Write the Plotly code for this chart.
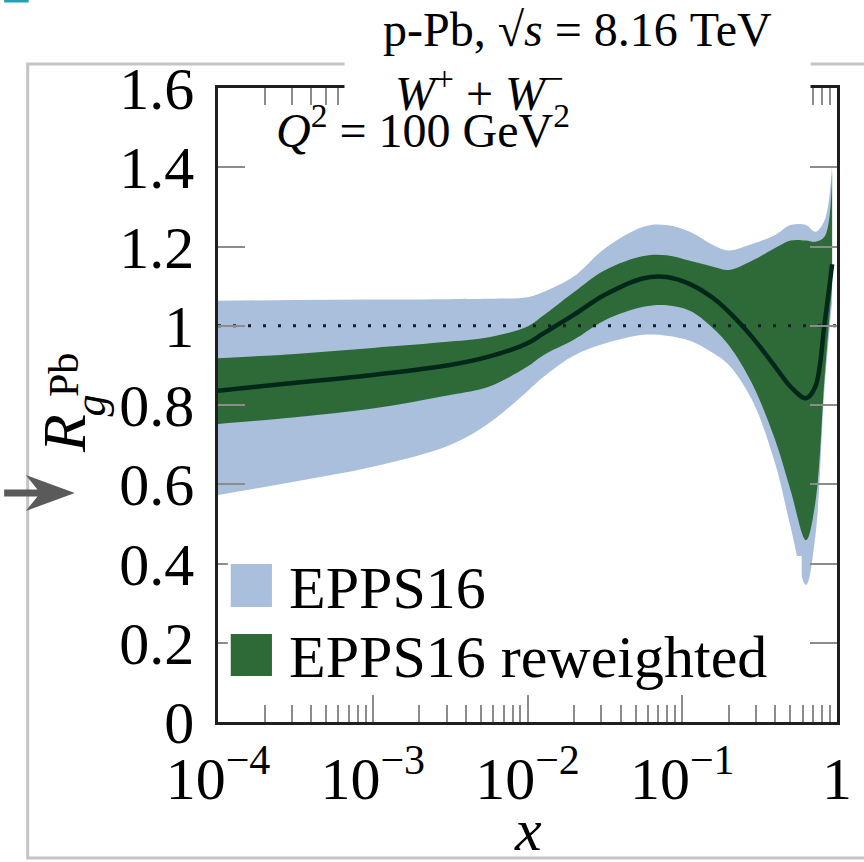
import plotly.graph_objects as go

# Momentum fraction x (log axis) at which the bands were sampled
x_vals = [1e-4, 3.16e-4, 1e-3, 3.16e-3, 5.62e-3, 1e-2, 1.26e-2, 2.0e-2,
          3.16e-2, 5.62e-2, 7.94e-2, 0.112, 0.158, 0.2, 0.282, 0.398,
          0.501, 0.631, 0.724, 0.832, 0.93]

# EPPS16 uncertainty band
epps_upper = [1.063, 1.065, 1.066, 1.067, 1.068, 1.072, 1.085, 1.125,
              1.195, 1.250, 1.254, 1.237, 1.204, 1.190, 1.206, 1.229,
              1.254, 1.254, 1.237, 1.267, 1.410]
epps_lower = [0.573, 0.607, 0.644, 0.699, 0.754, 0.835, 0.870, 0.925,
              0.955, 0.977, 0.975, 0.962, 0.931, 0.901, 0.813, 0.653,
              0.493, 0.346, 0.468, 0.846, 1.060]

# EPPS16 reweighted band and central value
rew_upper = [0.918, 0.929, 0.944, 0.960, 0.971, 0.998, 1.025, 1.085,
             1.140, 1.176, 1.178, 1.164, 1.149, 1.141, 1.164, 1.196,
             1.215, 1.215, 1.212, 1.225, 1.390]
rew_lower = [0.752, 0.769, 0.791, 0.825, 0.846, 0.897, 0.925, 0.965,
             1.014, 1.048, 1.052, 1.038, 0.994, 0.951, 0.855, 0.712,
             0.585, 0.459, 0.552, 0.871, 1.100]
rew_central = [0.836, 0.856, 0.876, 0.901, 0.922, 0.956, 0.980, 1.028,
               1.078, 1.120, 1.123, 1.105, 1.070, 1.035, 0.972, 0.897,
               0.846, 0.817, 0.846, 1.007, 1.155]

x_ticks = [1e-4, 1e-3, 1e-2, 1e-1, 1]
x_ticktext = ["10<sup>\u22124</sup>", "10<sup>\u22123</sup>",
              "10<sup>\u22122</sup>", "10<sup>\u22121</sup>", "1"]
x_minor = [m * d for d in [1e-4, 1e-3, 1e-2, 1e-1] for m in range(2, 10)]

legend_labels = ["EPPS16", "EPPS16 reweighted"]

BLUE = "#aabfdc"
GREEN = "#2d6a37"
LINE = "#00281a"
SERIF = "Liberation Serif"

# plot frame in page pixels
L, R, T, B = 218, 849, 88, 722
W, H = 864, 862


def pp(X, Y):
    """page pixel -> paper coordinates"""
    return (X - L) / (R - L), (B - Y) / (B - T)


fig = go.Figure()

sp = dict(shape="spline", smoothing=1.0, width=0)
fig.add_trace(go.Scatter(x=x_vals, y=epps_lower, mode="lines",
                         line=dict(color=BLUE, **sp), showlegend=False,
                         hoverinfo="skip"))
fig.add_trace(go.Scatter(x=x_vals, y=epps_upper, mode="lines", fill="tonexty",
                         fillcolor=BLUE, line=dict(color=BLUE, **sp),
                         name=legend_labels[0], showlegend=False))
fig.add_trace(go.Scatter(x=x_vals, y=rew_lower, mode="lines",
                         line=dict(color=GREEN, **sp), showlegend=False,
                         hoverinfo="skip"))
fig.add_trace(go.Scatter(x=x_vals, y=rew_upper, mode="lines", fill="tonexty",
                         fillcolor=GREEN, line=dict(color=GREEN, **sp),
                         name=legend_labels[1], showlegend=False))
fig.add_trace(go.Scatter(x=x_vals, y=rew_central, mode="lines",
                         line=dict(color=LINE, width=4.5, shape="spline",
                                   smoothing=1.0),
                         showlegend=False))
# unity reference
fig.add_trace(go.Scatter(x=[1e-4, 1], y=[1, 1], mode="lines",
                         line=dict(color="#1a1a2a", width=3, dash="3px,12px"),
                         showlegend=False, hoverinfo="skip"))

shapes = []
# outer frame of the panel
x0, y0 = pp(24, 64)
x1, y1 = pp(905, 858)
shapes.append(dict(type="rect", xref="paper", yref="paper", x0=x0, y0=y0,
                   x1=x1, y1=y1, line=dict(color="#c4c4c4", width=3),
                   layer="above"))
# teal tab in the corner
x0, y0 = pp(0, 0)
x1, y1 = pp(25, 2.5)
shapes.append(dict(type="rect", xref="paper", yref="paper", x0=x0, y0=y0,
                   x1=x1, y1=y1, fillcolor="#22a0b6", line=dict(width=0),
                   layer="above"))
# legend background
x0, y0 = pp(228, 556)
x1, y1 = pp(813, 692)
shapes.append(dict(type="rect", xref="paper", yref="paper", x0=x0, y0=y0,
                   x1=x1, y1=y1, fillcolor="white", line=dict(width=0),
                   layer="above"))
# legend swatches
for (ya, yb), col in zip([(564, 607), (634, 676)], [BLUE, GREEN]):
    x0, y0 = pp(231, ya)
    x1, y1 = pp(273, yb)
    shapes.append(dict(type="rect", xref="paper", yref="paper", x0=x0, y0=y0,
                       x1=x1, y1=y1, fillcolor=col, line=dict(width=0),
                       layer="above"))
# pointer arrow at the y axis
pts = [(0, 489.5), (34, 489.5), (22, 475), (72, 493), (22, 511), (34, 496.5),
       (0, 496.5)]
path = "M " + " L ".join("%.5f,%.5f" % pp(px, py) for px, py in pts) + " Z"
shapes.append(dict(type="path", xref="paper", yref="paper", path=path,
                   fillcolor="#5a5a5a", line=dict(width=0), layer="above"))

annotations = []

# white label box behind the header (sits above the axis frame and ticks)
bx, by = pp(584.5, 75)
annotations.append(dict(text=" ", x=bx, y=by, xref="paper", yref="paper",
                        xanchor="center", yanchor="middle", showarrow=False,
                        width=465, height=150, borderpad=0, bgcolor="white",
                        font=dict(size=10)))


def ann(text, X, Y, size, xanchor="center", angle=0):
    ax, ay = pp(X, Y)
    annotations.append(dict(text=text, x=ax, y=ay, xref="paper", yref="paper",
                            xanchor=xanchor, yanchor="middle", showarrow=False,
                            textangle=angle,
                            font=dict(family=SERIF, size=size, color="black")))


NB = "\u00a0"
ann("p-Pb, \u221a<i>s</i>" + NB + "=" + NB + "8.16" + NB + "TeV", 584, 30, 48)
ann("<i>W</i><sup>+</sup>" + NB + "+" + NB + "<i>W</i><sup>\u2212</sup>",
    396, 90, 48, "left")
ann("<i>Q</i><sup>2</sup>" + NB + "=" + NB + "100" + NB + "GeV<sup>2</sup>",
    275, 127, 48, "left")
ann(legend_labels[0], 288, 588, 60, "left")
ann(legend_labels[1], 288, 657, 60, "left")
ann("<i>x</i>", 534, 830, 60)
ann("<i>R</i>", 61, 433, 62, angle=-90)
ann("<i>g</i>", 88, 405, 44, angle=-90)
ann("Pb", 61, 375, 42, angle=-90)

tickc = "#8c8c8c"
fig.update_layout(
    width=W, height=H,
    margin=dict(l=L, r=W - R, t=T, b=H - B),
    paper_bgcolor="white", plot_bgcolor="white",
    showlegend=False,
    shapes=shapes, annotations=annotations,
    xaxis=dict(type="log", range=[-4, 0], showgrid=False, zeroline=False,
               showline=True, linecolor="#1e1e1e", linewidth=2.5,
               mirror="ticks", ticks="inside", ticklen=27, tickwidth=1.5,
               tickcolor=tickc, tickvals=x_ticks, ticktext=x_ticktext,
               tickfont=dict(family=SERIF, size=60, color="black"),
               ticklabelstandoff=2,
               minor=dict(ticks="inside", ticklen=17, tickwidth=1.5,
                          tickcolor=tickc, tickvals=x_minor, showgrid=False)),
    yaxis=dict(range=[0, 1.6], dtick=0.2, tick0=0, showgrid=False,
               zeroline=False, showline=True, linecolor="#1e1e1e",
               linewidth=2.5, mirror="ticks", ticks="inside", ticklen=27,
               tickwidth=1.5, tickcolor=tickc,
               tickfont=dict(family=SERIF, size=60, color="black"),
               ticklabelstandoff=9),
)

fig.write_html("out.html")
